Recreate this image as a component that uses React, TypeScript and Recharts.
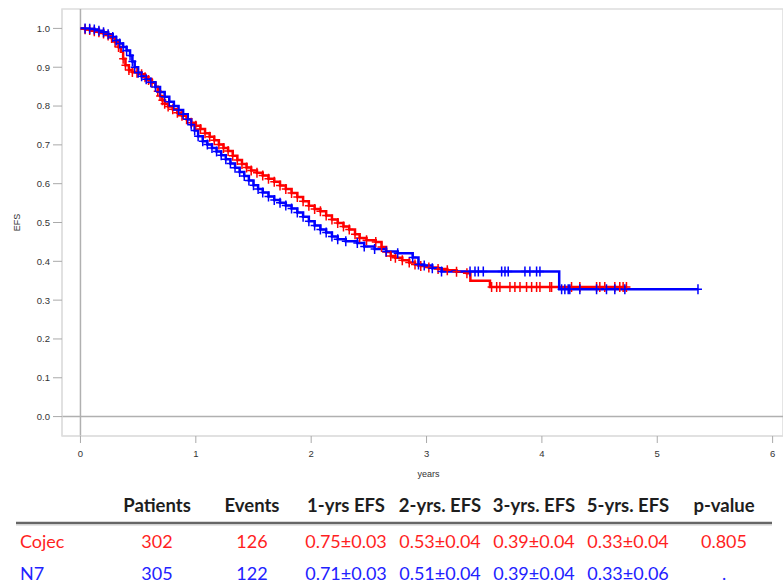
import React from 'react';
import { ComposedChart, Line, XAxis, YAxis, ReferenceLine, ReferenceArea, Label } from 'recharts';

// [years, EFS, censored(1) / event(0)]
const cojecCurve: Array<[number, number, number]> = [
  [0, 1.0, 0], [0.04, 0.998, 1], [0.08, 0.996, 1], [0.12, 0.993, 1], [0.16, 0.99, 1], [0.2, 0.987, 1],
  [0.24, 0.982, 1], [0.27, 0.975, 1], [0.3, 0.965, 1], [0.33, 0.952, 1], [0.35, 0.94, 0], [0.37, 0.922, 1],
  [0.39, 0.905, 1], [0.42, 0.893, 1], [0.45, 0.888, 1], [0.49, 0.886, 1], [0.53, 0.882, 1], [0.56, 0.874, 1],
  [0.59, 0.867, 1], [0.62, 0.86, 1], [0.65, 0.85, 0], [0.67, 0.838, 1], [0.69, 0.826, 1], [0.71, 0.815, 1],
  [0.73, 0.806, 1], [0.76, 0.799, 1], [0.8, 0.792, 1], [0.84, 0.783, 1], [0.88, 0.775, 1], [0.92, 0.766, 1],
  [0.96, 0.757, 1], [1.0, 0.749, 1], [1.04, 0.741, 1], [1.08, 0.73, 1], [1.12, 0.721, 1], [1.16, 0.712, 1],
  [1.2, 0.701, 1], [1.24, 0.692, 1], [1.28, 0.684, 1], [1.32, 0.672, 1], [1.36, 0.661, 1], [1.4, 0.651, 1],
  [1.44, 0.642, 1], [1.48, 0.634, 1], [1.53, 0.628, 1], [1.58, 0.621, 1], [1.63, 0.613, 1], [1.68, 0.605, 1],
  [1.73, 0.595, 1], [1.78, 0.586, 1], [1.83, 0.576, 1], [1.88, 0.566, 1], [1.93, 0.555, 1], [1.98, 0.543, 1],
  [2.03, 0.535, 1], [2.08, 0.529, 1], [2.13, 0.518, 1], [2.18, 0.508, 1], [2.23, 0.499, 1], [2.28, 0.49, 1],
  [2.33, 0.482, 1], [2.38, 0.47, 1], [2.42, 0.46, 1], [2.48, 0.454, 1], [2.56, 0.45, 1], [2.61, 0.437, 1],
  [2.65, 0.424, 1], [2.69, 0.414, 1], [2.73, 0.409, 1], [2.79, 0.403, 1], [2.85, 0.397, 1], [2.9, 0.392, 1],
  [2.95, 0.388, 1], [3.02, 0.384, 1], [3.1, 0.38, 1], [3.18, 0.377, 1], [3.26, 0.373, 1], [3.35, 0.369, 1],
  [3.38, 0.35, 0], [3.47, 0.35, 0], [3.55, 0.334, 0],
  [3.564, 0.334, 1], [3.608, 0.334, 1], [3.636, 0.334, 1], [3.723, 0.334, 1], [3.766, 0.334, 1], [3.81, 0.334, 1],
  [3.867, 0.334, 1], [3.911, 0.334, 1], [3.954, 0.334, 1], [3.983, 0.334, 1], [4.069, 0.334, 1], [4.084, 0.334, 1],
  [4.257, 0.334, 1], [4.329, 0.334, 1], [4.474, 0.334, 1], [4.502, 0.334, 1], [4.545, 0.334, 1], [4.632, 0.334, 1],
  [4.675, 0.334, 1], [4.704, 0.334, 1], [4.733, 0.334, 1],
];

const n7Curve: Array<[number, number, number]> = [
  [0, 1.0, 0], [0.04, 1.0, 1], [0.08, 0.999, 1], [0.12, 0.997, 1], [0.16, 0.994, 1], [0.2, 0.99, 1],
  [0.24, 0.985, 1], [0.28, 0.978, 1], [0.31, 0.969, 1], [0.34, 0.961, 1], [0.37, 0.952, 1], [0.4, 0.943, 1],
  [0.43, 0.93, 1], [0.45, 0.915, 1], [0.47, 0.9, 1], [0.5, 0.886, 1], [0.53, 0.877, 1], [0.57, 0.869, 1],
  [0.61, 0.861, 1], [0.65, 0.849, 1], [0.69, 0.836, 1], [0.73, 0.824, 1], [0.77, 0.811, 1], [0.81, 0.8, 1],
  [0.85, 0.79, 1], [0.89, 0.779, 1], [0.93, 0.766, 1], [0.96, 0.752, 1], [0.99, 0.737, 1], [1.02, 0.722, 1],
  [1.06, 0.709, 1], [1.1, 0.701, 1], [1.14, 0.692, 1], [1.18, 0.683, 1], [1.22, 0.673, 1], [1.26, 0.663, 1],
  [1.3, 0.652, 1], [1.34, 0.641, 1], [1.38, 0.63, 1], [1.42, 0.62, 1], [1.46, 0.608, 1], [1.5, 0.596, 1],
  [1.54, 0.586, 1], [1.58, 0.577, 1], [1.63, 0.567, 1], [1.68, 0.558, 1], [1.73, 0.551, 1], [1.78, 0.544, 1],
  [1.83, 0.536, 1], [1.88, 0.526, 1], [1.93, 0.515, 1], [1.98, 0.503, 1], [2.03, 0.492, 1], [2.08, 0.482, 1],
  [2.13, 0.474, 1], [2.18, 0.464, 1], [2.23, 0.457, 1], [2.3, 0.452, 1], [2.4, 0.447, 1], [2.46, 0.438, 1],
  [2.55, 0.432, 1], [2.65, 0.425, 1], [2.75, 0.421, 1], [2.88, 0.41, 1], [2.93, 0.392, 1], [2.98, 0.389, 1],
  [3.05, 0.382, 1], [3.13, 0.374, 1],
  [3.377, 0.374, 1], [3.42, 0.374, 1], [3.449, 0.374, 1], [3.492, 0.374, 1], [3.651, 0.374, 1], [3.68, 0.374, 1],
  [3.708, 0.374, 1], [3.853, 0.374, 1], [3.896, 0.374, 1], [3.954, 0.374, 1], [3.983, 0.374, 1],
  [4.15, 0.328, 0], [4.171, 0.328, 1], [4.199, 0.328, 1], [4.228, 0.328, 1], [4.242, 0.328, 1], [4.329, 0.328, 1],
  [4.474, 0.328, 1], [4.56, 0.328, 1], [4.632, 0.328, 1], [4.719, 0.328, 1], [5.353, 0.328, 1],
];

const xTicks = [0, 1, 2, 3, 4, 5, 6];
const yTicks = [0, 0.1, 0.2, 0.3, 0.4, 0.5, 0.6, 0.7, 0.8, 0.9, 1.0];

const tableHeaders = ['Patients', 'Events', '1-yrs EFS', '2-yrs. EFS', '3-yrs. EFS', '5-yrs. EFS', 'p-value'];
const groupNames = ['Cojec', 'N7'];
const cojecRow = ['302', '126', '0.75±0.03', '0.53±0.04', '0.39±0.04', '0.33±0.04', '0.805'];
const n7Row = ['305', '122', '0.71±0.03', '0.51±0.04', '0.39±0.04', '0.33±0.06', '.'];

const RED = '#ff0000';
const BLUE = '#0000ff';

const toRows = (curve: Array<[number, number, number]>) =>
  curve.map(([t, s, c]) => ({ t, s, c }));

const cojecData = toRows(cojecCurve);
const n7Data = toRows(n7Curve);

const makeCross = (color: string) => (props: any) => {
  const { cx, cy, payload, index } = props;
  if (!payload || !payload.c || cx == null || cy == null) return <g key={`e-${index}`} />;
  return (
    <path
      key={`c-${index}`}
      d={`M${cx - 4},${cy}H${cx + 4}M${cx},${cy - 5}V${cy + 5}`}
      stroke={color}
      strokeWidth={1.5}
      fill="none"
    />
  );
};

const tickStyle = { fontSize: 9.5, fill: '#333', fontFamily: '"Liberation Sans", Arial, sans-serif' };

export default function App() {
  const colX = [157, 252, 346, 440, 534, 628, 724];
  const rows = [cojecRow, n7Row];
  const rowColors = ['#ff1f1f', '#2222ff'];
  const rowY = [58, 90];
  return (
    <div style={{ position: 'absolute', left: 0, top: 0, width: 783, height: 587, background: '#fff' }}>
      <ComposedChart width={783} height={490} margin={{ top: 9, right: 0, bottom: 0, left: 0 }}>
        <XAxis
          type="number"
          dataKey="t"
          domain={[-0.16, 6.09]}
          allowDataOverflow
          ticks={xTicks}
          tick={tickStyle}
          tickSize={7}
          tickMargin={7}
          height={54}
          axisLine={{ stroke: '#ddd' }}
          tickLine={{ stroke: '#aaa' }}
        >
          <Label
            content={({ viewBox }: any) => (
              <text
                x={viewBox.x + viewBox.width / 2 + 6}
                y={477}
                textAnchor="middle"
                style={{ fontSize: 9, fill: '#333', fontFamily: '"Liberation Sans", Arial, sans-serif' }}
              >
                years
              </text>
            )}
          />
        </XAxis>
        <YAxis
          type="number"
          domain={[-0.05, 1.05]}
          allowDataOverflow
          ticks={yTicks}
          tickFormatter={(v: number) => v.toFixed(1)}
          tick={tickStyle}
          tickSize={9}
          tickMargin={3}
          width={62}
          axisLine={{ stroke: '#ddd' }}
          tickLine={{ stroke: '#aaa' }}
        >
          <Label
            content={({ viewBox }: any) => (
              <text
                x={20}
                y={viewBox.y + viewBox.height / 2}
                textAnchor="middle"
                transform={`rotate(-90, 20, ${viewBox.y + viewBox.height / 2})`}
                style={{ fontSize: 9, fill: '#333', fontFamily: '"Liberation Sans", Arial, sans-serif' }}
              >
                EFS
              </text>
            )}
          />
        </YAxis>
        <ReferenceArea x1={-0.16} x2={6.09} y1={-0.05} y2={1.05} fill="none" stroke="#ddd" strokeWidth={1.5} ifOverflow="visible" />
        <ReferenceLine x={0} stroke="#b0b0b0" strokeWidth={1.5} />
        <ReferenceLine y={0} stroke="#b0b0b0" strokeWidth={1.5} />
        <Line
          data={cojecData}
          dataKey="s"
          type="stepAfter"
          stroke={RED}
          strokeWidth={2.5}
          dot={makeCross(RED)}
          activeDot={false}
          isAnimationActive={false}
        />
        <Line
          data={n7Data}
          dataKey="s"
          type="stepAfter"
          stroke={BLUE}
          strokeWidth={2.5}
          dot={makeCross(BLUE)}
          activeDot={false}
          isAnimationActive={false}
        />
      </ComposedChart>
      <svg width={783} height={97} style={{ position: 'absolute', left: 0, top: 490 }}>
        {tableHeaders.map((h, i) => (
          <text key={h} x={colX[i]} y={22} textAnchor="middle"
            style={{ fontFamily: 'Lato, "Open Sans", sans-serif', fontWeight: 700, fontSize: 18.5, fill: '#1e1e1e' }}>
            {h}
          </text>
        ))}
        <line x1={16} x2={772} y1={33} y2={33} stroke="#666" strokeWidth={2.5} />
        <line x1={16} x2={772} y1={35} y2={35} stroke="#ccc" strokeWidth={1} />
        {rows.map((row, r) => (
          <g key={groupNames[r]}>
            <text x={20} y={rowY[r]} textAnchor="start"
              style={{ fontFamily: 'Lato, "Open Sans", sans-serif', fontSize: 18, fill: rowColors[r] }}>
              {groupNames[r]}
            </text>
            {row.map((v, i) => (
              <text key={i} x={colX[i]} y={rowY[r]} textAnchor="middle"
                style={{ fontFamily: 'Lato, "Open Sans", sans-serif', fontSize: 18, fill: rowColors[r] }}>
                {v}
              </text>
            ))}
          </g>
        ))}
      </svg>
    </div>
  );
}
